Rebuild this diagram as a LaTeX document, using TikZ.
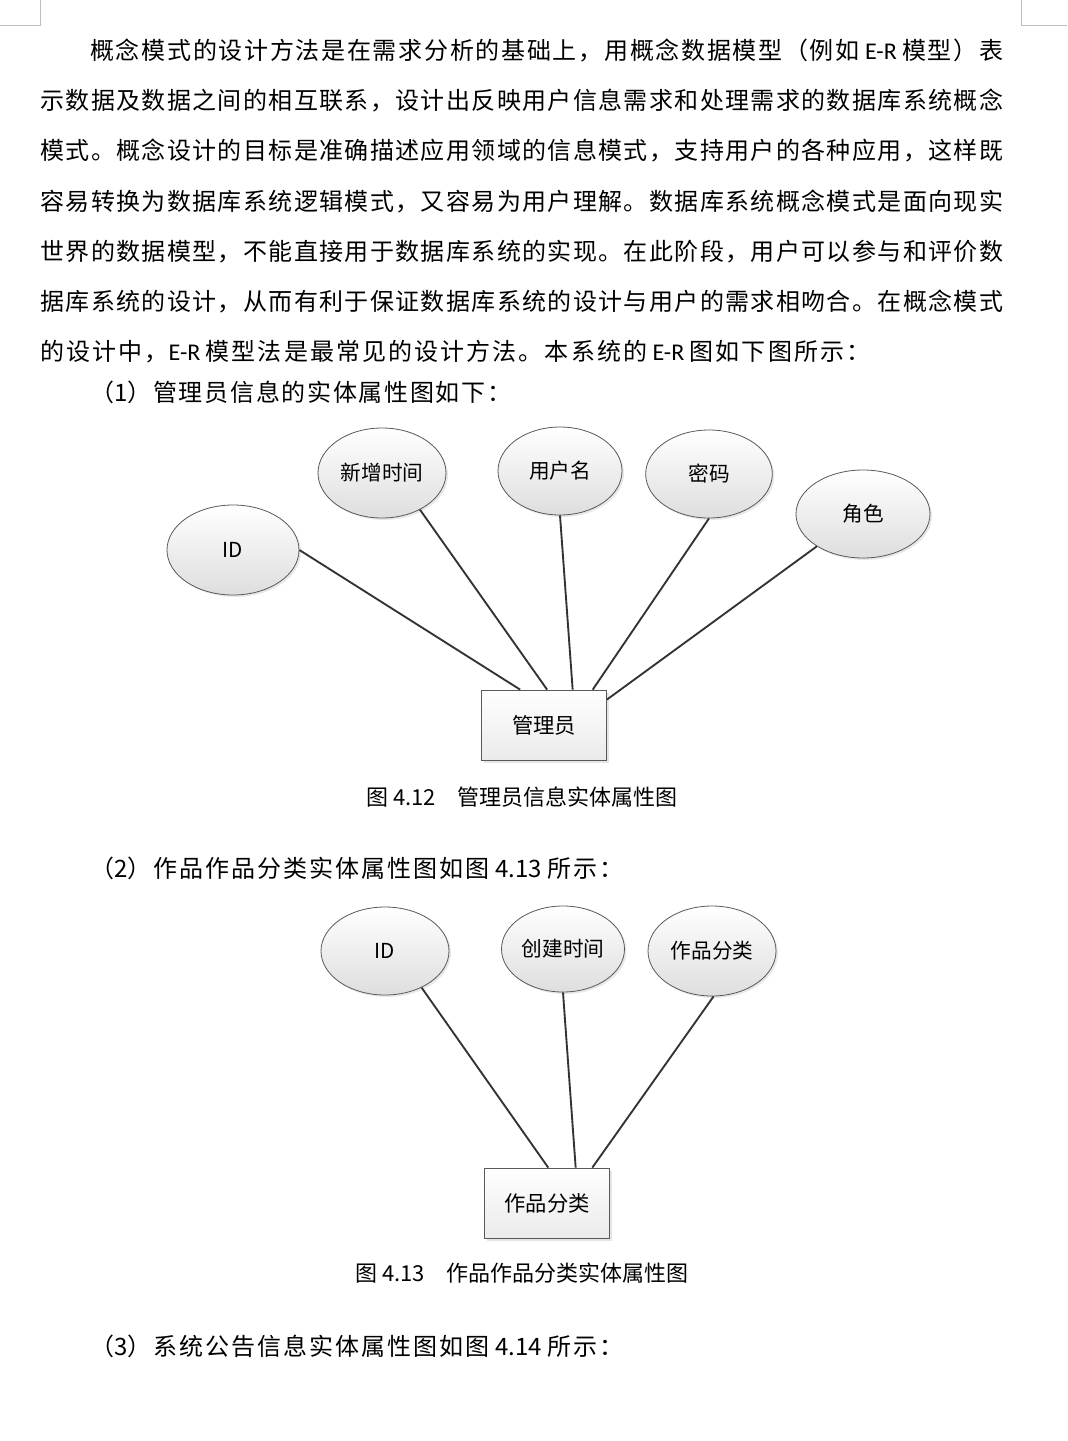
\documentclass[tikz,border=0pt]{standalone}
\usepackage{fontspec}
\setmainfont{Noto Sans CJK SC}
\newfontfamily\latinfont{Carlito}
\usetikzlibrary{shapes.geometric,shadows}
\newXeTeXintercharclass\cjkclass
\newcount\cjkcode
\newcommand\setcjkrange[2]{%
  \cjkcode=#1\relax
  \loop
    \XeTeXcharclass\cjkcode=\cjkclass
    \advance\cjkcode by 1
  \ifnum\cjkcode<#2\relax\repeat}
\setcjkrange{"3000}{"3040}
\setcjkrange{"4E00}{"A000}
\setcjkrange{"FF00}{"FFF0}
\XeTeXinterchartokenstate=1
\newcommand\cjkfill{\hskip 0pt plus 1fil\relax}
\XeTeXinterchartoks\cjkclass\cjkclass={\cjkfill}
\newcommand\bodyfont{\fontsize{18pt}{24pt}\selectfont}
\newcommand\capfont{\fontsize{16.5pt}{20pt}\selectfont}
\newcommand\labfont{\fontsize{15.5pt}{18pt}\selectfont}
\newcommand\ER{{\latinfont E-R}}
\begin{document}
\begin{tikzpicture}[x=0.75pt, y=-0.75pt,
    txt/.style={anchor=base west, inner sep=0pt, font=\bodyfont},
    caption/.style={anchor=base, inner sep=0pt, font=\capfont},
    attr/.style={ellipse, draw=black!65, line width=0.6pt, inner sep=0pt,
      minimum width=96pt, minimum height=66pt, top color=white, bottom color=black!13,
      font=\labfont, drop shadow={opacity=0.18, shadow xshift=1.5pt, shadow yshift=-1.5pt}},
    entity/.style={rectangle, draw=black!65, line width=0.6pt, inner sep=0pt,
      minimum width=93.75pt, minimum height=52.5pt, top color=white, bottom color=black!8,
      font=\fontsize{16pt}{19pt}\selectfont, drop shadow={opacity=0.2, shadow xshift=2pt, shadow yshift=-2pt}},
    conn/.style={draw=black!80, line width=1.4pt},
    cropmark/.style={draw=black!25, line width=0.6pt}]
  \path[use as bounding box, fill=white] (0,0) rectangle (1067,1441);

  \draw[cropmark] (40,0) -- (40,25) -- (0,25);
  \draw[cropmark] (1021,0) -- (1021,25) -- (1067,25);

  \node[txt] (line1) at (90,60) {\hbox to 684.75pt{概念模式的设计方法是在需求分析的基础上，用概念数据模型（例如 \ER{} 模型）表}};
  \node[txt] (line2) at (40,110) {\hbox to 722.25pt{示数据及数据之间的相互联系，设计出反映用户信息需求和处理需求的数据库系统概念}};
  \node[txt] (line3) at (40,160) {\hbox to 722.25pt{模式。概念设计的目标是准确描述应用领域的信息模式，支持用户的各种应用，这样既}};
  \node[txt] (line4) at (40,210) {\hbox to 722.25pt{容易转换为数据库系统逻辑模式，又容易为用户理解。数据库系统概念模式是面向现实}};
  \node[txt] (line5) at (40,260) {\hbox to 722.25pt{世界的数据模型，不能直接用于数据库系统的实现。在此阶段，用户可以参与和评价数}};
  \node[txt] (line6) at (40,310) {\hbox to 722.25pt{据库系统的设计，从而有利于保证数据库系统的设计与用户的需求相吻合。在概念模式}};
  \node[txt] (line7) at (40,360) {\hbox to 622.5pt{的设计中，\ER{} 模型法是最常见的设计方法。本系统的 \ER{} 图如下图所示：}};
  \node[txt] (item1) at (90,401) {\hbox to 315.75pt{（1）管理员信息的实体属性图如下：}};

  \node[attr, minimum width=99pt, minimum height=67.5pt] (adminid) at (233,550) {ID};
  \node[attr, minimum height=67.5pt] (addtime) at (382,473) {新增时间};
  \node[attr, minimum width=93pt] (username) at (560,471) {用户名};
  \node[attr, minimum width=95pt] (password) at (709,474) {密码};
  \node[attr, minimum width=100.5pt] (role) at (863,514) {角色};
  \node[entity] (admin) at (544,725) {管理员};

  \draw[conn] (adminid.east) -- (admin.124);
  \draw[conn] (addtime.-44) -- (admin.85);
  \draw[conn] (username.south) -- (admin.51);
  \draw[conn] (password.south) -- (admin.36);
  \draw[conn] (role.-145) -- (admin.22);

  \node[caption] (cap1) at (522,805) {图 4.12\hspace{16pt}管理员信息实体属性图};

  \node[txt] (item2) at (90,877) {\hbox to 399.75pt{（2）作品作品分类实体属性图如图 4.13 所示：}};

  \node[attr] (workid) at (385,951) {ID};
  \node[attr, minimum width=92.25pt, minimum height=64.5pt] (createtime) at (563,949) {创建时间};
  \node[attr, minimum height=67.5pt] (category) at (712,951) {作品分类};
  \node[entity] (workcat) at (547,1203) {作品分类};

  \draw[conn] (workid.-45) -- (workcat.88);
  \draw[conn] (createtime.south) -- (workcat.51);
  \draw[conn] (category.-88) -- (workcat.38);

  \node[caption] (cap2) at (522,1281) {图 4.13\hspace{16pt}作品作品分类实体属性图};

  \node[txt] (item3) at (90,1355) {\hbox to 399.75pt{（3）系统公告信息实体属性图如图 4.14 所示：}};
\end{tikzpicture}
\end{document}
